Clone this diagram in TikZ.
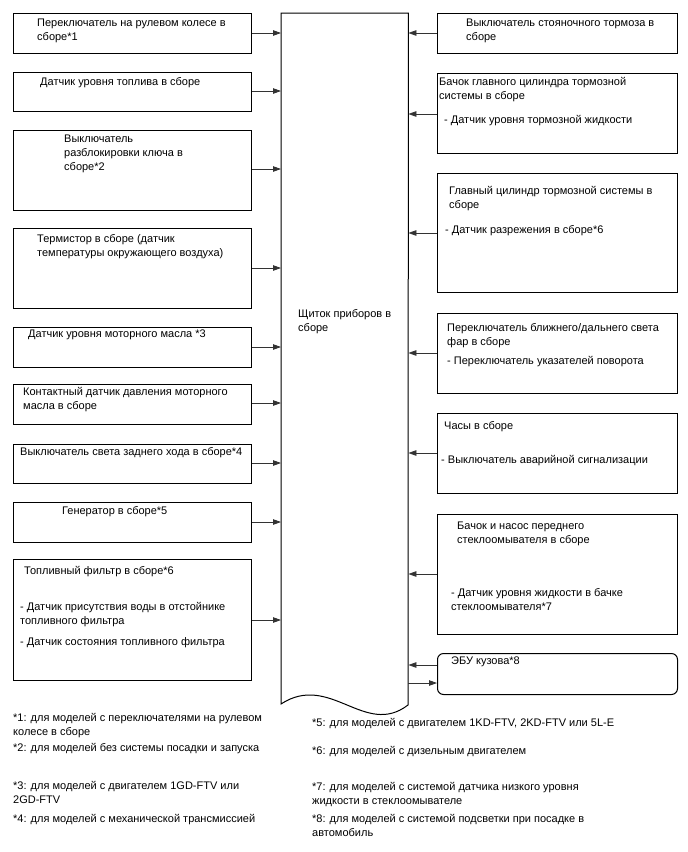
\documentclass[tikz,border=0pt]{standalone}
\usepackage{fontspec}
\setmainfont{Liberation Sans}
\usetikzlibrary{positioning,arrows.meta}

\begin{document}
\begin{tikzpicture}[
  x=1pt, y=-1pt,
  font=\fontsize{11}{14}\selectfont,
  box/.style={draw, line width=1pt, anchor=north west, inner sep=0pt, minimum width=#1},
  box/.default=238pt,
  txt/.style={anchor=north west, inner sep=0pt, align=left, yshift=-1.5pt},
  arr/.style={draw=black!80, line width=0.8pt, -{Triangle[length=8pt,width=5.5pt]}}]
  \useasboundingbox (0,0) rectangle (688,852);

  % instrument panel (wavy bottom)
  \node[inner sep=0pt, minimum width=127pt, minimum height=692pt, anchor=north west] (panel) at (281,13) {};
  \draw[line width=1pt] (panel.north west) -- (281,704)
    .. controls (330,672) and (365,738) .. (408,705) -- (panel.north east) -- cycle;
  \node[txt] (panel-t) at (298,308) {Щиток приборов в\\сборе};

  % left column
  \node[box, minimum height=40pt] (steer) at (13,13) {};
  \node[txt] (steer-t) at (37,17) {Переключатель на рулевом колесе в\\сборе*1};
  \node[box, minimum height=39pt] (fuel) at (13,72) {};
  \node[txt] (fuel-t) at (40,76) {Датчик уровня топлива в сборе};
  \node[box, minimum height=80pt] (keysw) at (13,130) {};
  \node[txt] (keysw-t) at (64,133) {Выключатель\\разблокировки ключа в\\сборе*2};
  \node[box, minimum height=80pt] (thermo) at (13,228) {};
  \node[txt] (thermo-t) at (37,233) {Термистор в сборе (датчик\\температуры окружающего воздуха)};
  \node[box, minimum height=40pt] (oillvl) at (13,327) {};
  \node[txt] (oillvl-t) at (28,328) {Датчик уровня моторного масла *3};
  \node[box, minimum height=40pt] (oilpress) at (13,384) {};
  \node[txt] (oilpress-t) at (23,386) {Контактный датчик давления моторного\\масла в сборе};
  \node[box, minimum height=39pt] (reverse) at (13,444) {};
  \node[txt] (reverse-t) at (20,446) {Выключатель света заднего хода в сборе*4};
  \node[box, minimum height=40pt] (alt) at (13,502) {};
  \node[txt] (alt-t) at (62,505) {Генератор в сборе*5};
  \node[box, minimum height=121pt] (filter) at (13,559) {};
  \node[txt] (filter-t) at (24,565) {Топливный фильтр в сборе*6};
  \node[txt] (filter-d) at (20,601) {- Датчик присутствия воды в отстойнике\\топливного фильтра\\[7pt]- Датчик состояния топливного фильтра};

  % right column
  \node[box=240pt, minimum height=40pt] (park) at (437,13) {};
  \node[txt] (park-t) at (466,17) {Выключатель стояночного тормоза в\\сборе};
  \node[box=240pt, minimum height=80pt] (brkres) at (437,73) {};
  \node[txt] (brkres-t) at (439,76) {Бачок главного цилиндра тормозной\\системы в сборе};
  \node[txt] (brkres-d) at (444,114) {- Датчик уровня тормозной жидкости};
  \node[box=240pt, minimum height=119pt] (brkcyl) at (437,173) {};
  \node[txt] (brkcyl-t) at (449,185) {Главный цилиндр тормозной системы в\\сборе};
  \node[txt] (brkcyl-d) at (445,224) {- Датчик разрежения в сборе*6};
  \node[box=240pt, minimum height=80pt] (headlt) at (437,313) {};
  \node[txt] (headlt-t) at (447,322) {Переключатель ближнего/дальнего света\\фар в сборе};
  \node[txt] (headlt-d) at (447,355) {- Переключатель указателей поворота};
  \node[box=240pt, minimum height=80pt] (clock) at (437,413) {};
  \node[txt] (clock-t) at (444,420) {Часы в сборе};
  \node[txt] (clock-d) at (441,454) {- Выключатель аварийной сигнализации};
  \node[box=240pt, minimum height=120pt] (washer) at (437,514) {};
  \node[txt] (washer-t) at (457,520) {Бачок и насос переднего\\стеклоомывателя в сборе};
  \node[txt] (washer-d) at (451,587) {- Датчик уровня жидкости в бачке\\стеклоомывателя*7};
  \node[box=240pt, minimum height=41pt, rounded corners=6pt] (becu) at (437,653) {};
  \node[txt] (becu-t) at (451,655) {ЭБУ кузова*8};

  % notes
  \node[txt] (n1) at (13,712) {*1: для моделей с переключателями на рулевом\\колесе в сборе};
  \node[txt] (n2) at (13,742) {*2: для моделей без системы посадки и запуска};
  \node[txt] (n3) at (13,780) {*3: для моделей с двигателем 1GD-FTV или\\2GD-FTV};
  \node[txt] (n4) at (13,813) {*4: для моделей с механической трансмиссией};
  \node[txt] (n5) at (312,717) {*5: для моделей с двигателем 1KD-FTV, 2KD-FTV или 5L-E};
  \node[txt] (n6) at (312,745) {*6: для моделей с дизельным двигателем};
  \node[txt] (n7) at (312,781) {*7: для моделей с системой датчика низкого уровня\\жидкости в стеклоомывателе};
  \node[txt] (n8) at (312,813) {*8: для моделей с системой подсветки при посадке в\\автомобиль};

  % connectors
  \foreach \b/\y in {steer/33, fuel/91, keysw/169, thermo/268, oillvl/347, oilpress/403, reverse/463, alt/522, filter/620}
    \draw[arr] (\b.east |- 0,\y) -- (panel.west |- 0,\y);
  \foreach \b/\y in {park/33, brkres/114, brkcyl/233, headlt/353, clock/453, washer/574, becu/665}
    \draw[arr] (\b.west |- 0,\y) -- (panel.east |- 0,\y);
  \draw[arr] (panel.east |- 0,683) -- (becu.west |- 0,683);
\end{tikzpicture}
\end{document}
